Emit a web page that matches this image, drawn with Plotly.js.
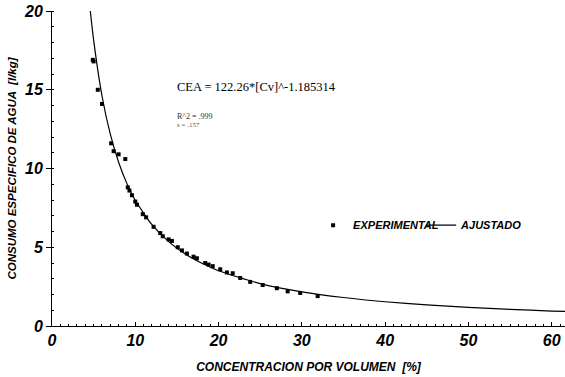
<!DOCTYPE html>
<html><head><meta charset="utf-8">
<script src="https://cdn.plot.ly/plotly-3.0.1.min.js"></script>
<style>html,body{margin:0;padding:0;background:#fff}#chart{width:565px;height:377px}</style>
</head><body><div id="chart"></div>
<script>
// Experimental points
const expX = [4.9,5.0,5.5,6.0,7.1,7.4,8.0,8.8,9.1,9.3,9.6,10.0,10.2,10.9,11.3,12.2,13.0,13.3,14.0,14.4,15.1,15.6,16.2,17.0,17.4,18.4,18.8,19.3,20.2,21.0,21.7,22.6,23.8,25.3,27.0,28.3,29.8,31.9];
const expY = [16.9,16.8,15.0,14.1,11.6,11.1,10.9,10.6,8.8,8.6,8.3,7.9,7.7,7.1,6.9,6.3,5.9,5.7,5.5,5.4,5.0,4.8,4.6,4.4,4.3,4.0,3.9,3.8,3.6,3.4,3.35,3.05,2.8,2.6,2.4,2.2,2.1,1.9];
// Fitted curve (ajustado) values
const fitX = [4.6,5,6,7,8,9,10,12,14,16,18,20,25,30,35,40,45,50,55,60,62];
const fitY = [20.0,18.15,14.62,12.18,10.40,9.04,7.98,6.43,5.36,4.57,3.98,3.51,2.69,2.17,1.81,1.54,1.34,1.18,1.06,0.95,0.92];
const xTicks = [0,10,20,30,40,50,60];
const yTicks = [0,5,10,15,20];
const legendNames = ['EXPERIMENTAL','AJUSTADO'];
const equationText = 'CEA = 122.26*[Cv]^-1.185314';

const tickFont = {family:'Liberation Sans, Arial, sans-serif', size:16, color:'#000', style:'italic', weight:'bold'};
const titleFont = {family:'Liberation Sans, Arial, sans-serif', size:12, color:'#000', style:'italic', weight:'bold'};

const data = [
  {x: expX, y: expY, type:'scatter', mode:'markers', name: legendNames[0],
   marker:{symbol:'square', size:4, color:'#000'}},
  {x: fitX, y: fitY, type:'scatter', mode:'lines', name: legendNames[1],
   line:{color:'#000', width:1.2, shape:'spline', smoothing:0.6}}
];

const layout = {
  width:565, height:377,
  margin:{l:52, r:0, t:11, b:51},
  paper_bgcolor:'#fff', plot_bgcolor:'#fff',
  showlegend:true,
  legend:{orientation:'h', x:0.509, y:0.32, xanchor:'left', yanchor:'middle',
    font:{family:'Liberation Sans, Arial, sans-serif', size:11, color:'#000', style:'italic', weight:'bold'},
    bgcolor:'rgba(0,0,0,0)', entrywidth:63, itemwidth:30},
  xaxis:{range:[0,61.6], tickvals:xTicks, ticktext:xTicks.map(String), tickfont:tickFont,
    showgrid:false, zeroline:false, showline:true, linecolor:'#000', linewidth:1,
    ticks:'inside', ticklen:4, tickcolor:'#000',
    minor:{dtick:1, ticks:'inside', ticklen:2, tickcolor:'#000', showgrid:false},
    title:{text:'CONCENTRACION POR VOLUMEN  [%]', font:titleFont, standoff:14}},
  yaxis:{range:[0,20], tickvals:yTicks, ticktext:yTicks.map(String), tickfont:tickFont,
    showgrid:false, zeroline:false, showline:true, linecolor:'#000', linewidth:1,
    ticks:'outside', ticklen:5, tickcolor:'#000',
    minor:{dtick:1, ticks:'inside', ticklen:2, tickcolor:'#000', showgrid:false},
    title:{text:'CONSUMO ESPECIFICO DE AGUA  [l/kg]', font:{family:'Liberation Sans, Arial, sans-serif', size:11.5, color:'#000', style:'italic', weight:'bold'}, standoff:4}},
  annotations:[
    {xref:'paper', yref:'paper', x:(175-52)/513, y:(326-87)/315, xanchor:'left', yanchor:'middle', showarrow:false,
     text:equationText, font:{family:'Liberation Serif, Times New Roman, serif', size:12.5, color:'#000'}},
    {xref:'paper', yref:'paper', x:(175-52)/513, y:(326-116)/315, xanchor:'left', yanchor:'middle', showarrow:false,
     text:'R^2 = .999', font:{family:'Liberation Serif, serif', size:8, color:'#333'}},
    {xref:'paper', yref:'paper', x:(175-52)/513, y:(326-125)/315, xanchor:'left', yanchor:'middle', showarrow:false,
     text:'s = .157', font:{family:'Liberation Serif, serif', size:7, color:'#555'}}
  ]
};
Plotly.newPlot('chart', data, layout, {displayModeBar:false, staticPlot:true});
</script></body></html>
